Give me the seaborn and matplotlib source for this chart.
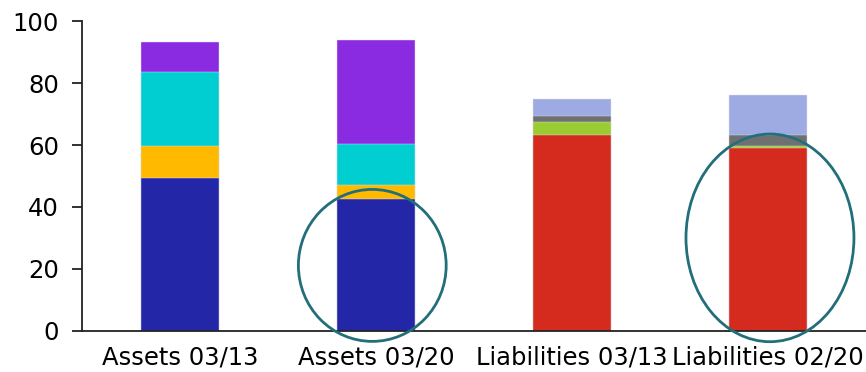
import matplotlib
matplotlib.use("Agg")
import matplotlib.pyplot as plt
from matplotlib.patches import Ellipse
import numpy as np
import pandas as pd
import seaborn as sns

categories = ["Assets 03/13", "Assets 03/20", "Liabilities 03/13", "Liabilities 02/20"]
# stacked layers, bottom to top
layer1 = [49.5, 42.5, 63.3, 59.1]
layer2 = [10.3, 4.6, 4.1, 0.7]
layer3 = [23.7, 13.2, 2.1, 3.5]
layer4 = [9.7, 33.6, 5.3, 12.7]
layer1_colors = ["#2326A6", "#2326A6", "#D52B1E", "#D52B1E"]
layer2_colors = ["#FFBA00", "#FFBA00", "#9ACD32", "#9ACD32"]
layer3_colors = ["#00CED1", "#00CED1", "#6E7170", "#6E7170"]
layer4_colors = ["#8A2BE2", "#8A2BE2", "#9DABE2", "#9DABE2"]
y_ticks = [0, 20, 40, 60, 80, 100]

sns.set_theme(style="white")
plt.rcParams["font.family"] = ["DejaVu Sans"]

fig = plt.figure(figsize=(8.66, 3.72), dpi=100)
ax = fig.add_axes([0.0947, 0.111, 0.9053, 0.832])

layers = [layer1, layer2, layer3, layer4]
colors = [layer1_colors, layer2_colors, layer3_colors, layer4_colors]
cum = np.cumsum(np.array(layers), axis=0)

# draw from top (largest cumulative) to bottom so lower layers overlay
for i in range(len(layers) - 1, -1, -1):
    df = pd.DataFrame({"cat": categories, "val": cum[i]})
    sns.barplot(data=df, x="cat", y="val", hue="cat", order=categories,
                hue_order=categories, palette=colors[i], legend=False,
                width=0.4, saturation=1, ax=ax, linewidth=0.3,
                edgecolor="#e4e4f0")

ax.set_xlim(-0.5, 3.5)
ax.set_ylim(0, 100)
ax.set_yticks(y_ticks)
ax.set_xlabel("")
ax.set_ylabel("")

for s in ["top", "right"]:
    ax.spines[s].set_visible(False)
for s in ["left", "bottom"]:
    ax.spines[s].set_color("#222222")
    ax.spines[s].set_linewidth(1.3)

ax.tick_params(axis="y", direction="out", length=7.5, width=1.3, color="#222222",
               labelsize=17.5, pad=9, left=True)
ax.tick_params(axis="x", length=0, labelsize=17.5, pad=11)
for t in ax.get_xticklabels() + ax.get_yticklabels():
    t.set_color("#000000")

ell_color = "#236E7B"
ax.add_patch(Ellipse((0.981, 21.1), 0.754, 49.1, fill=False, edgecolor=ell_color,
                     linewidth=2.0, clip_on=False, zorder=5))
ax.add_patch(Ellipse((3.010, 30.0), 0.857, 67.1, fill=False, edgecolor=ell_color,
                     linewidth=2.0, clip_on=False, zorder=5))

fig.savefig("out.png", dpi=100)
